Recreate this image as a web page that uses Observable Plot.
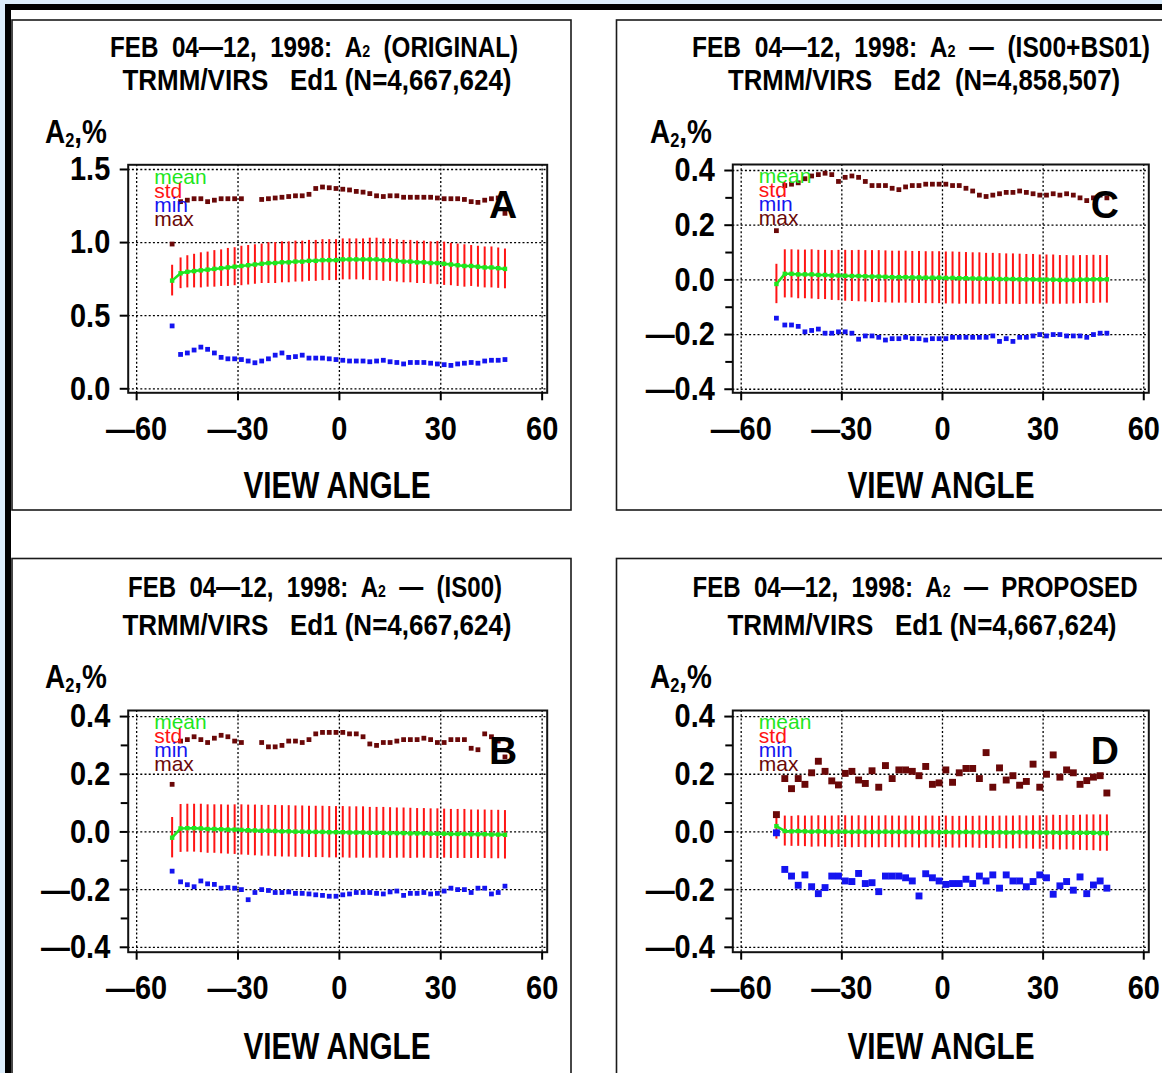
<!DOCTYPE html>
<html>
<head>
<meta charset="utf-8">
<script src="https://cdn.jsdelivr.net/npm/d3@7"></script>
<script src="https://cdn.jsdelivr.net/npm/@observablehq/plot@0.6"></script>
<style>
  html, body { margin: 0; padding: 0; background: #ffffff; }
  #root { position: relative; width: 1162px; height: 1073px; overflow: hidden; background: #ffffff; }
  .plotbox { position: absolute; width: 560px; }
  .plotbox svg { max-width: none !important; }
  #overlay { position: absolute; left: 0; top: 0; pointer-events: none; }
</style>
</head>
<body>
<div id="root"></div>
<script>
// ---------------- DATA ----------------
const angles = [
  -49.5, -47, -45, -43, -41, -39, -37, -35, -33, -31,
  -29, -27, -25, -23, -21, -19, -17, -15, -13, -11,
  -9, -7, -5, -3, -1, 1, 3, 5, 7, 9,
  11, 13, 15, 17, 19, 21, 23, 25, 27, 29,
  31, 33, 35, 37, 39, 41, 43, 45, 47, 49
];
const xTicks = [-60, -30, 0, 30, 60];
const yTicksA = [0, 0.5, 1.0, 1.5];
const yTicksPM = [-0.4, -0.2, 0, 0.2, 0.4];
const yMinorPM = [-0.3, -0.1, 0.1, 0.3];
const legendLabels = ["mean", "std", "min", "max"];

// Panel A (ORIGINAL)
const meanA = [
  0.74, 0.79, 0.80, 0.805, 0.81, 0.815, 0.82, 0.825, 0.83, 0.835,
  0.84, 0.845, 0.85, 0.855, 0.86, 0.86, 0.865, 0.865, 0.87, 0.87,
  0.875, 0.875, 0.88, 0.88, 0.88, 0.885, 0.885, 0.885, 0.885, 0.885,
  0.885, 0.88, 0.88, 0.875, 0.87, 0.87, 0.865, 0.865, 0.86, 0.86,
  0.855, 0.85, 0.845, 0.84, 0.84, 0.835, 0.83, 0.83, 0.825, 0.82
];
const stdA = [
  0.105, 0.105, 0.11, 0.115, 0.12, 0.12, 0.125, 0.125, 0.13, 0.13,
  0.135, 0.135, 0.135, 0.135, 0.14, 0.14, 0.14, 0.14, 0.14, 0.14,
  0.14, 0.14, 0.14, 0.14, 0.14, 0.14, 0.14, 0.14, 0.14, 0.145,
  0.145, 0.145, 0.145, 0.145, 0.145, 0.145, 0.145, 0.145, 0.145, 0.148,
  0.148, 0.145, 0.145, 0.145, 0.14, 0.14, 0.14, 0.14, 0.138, 0.136
];
const minA = [
  0.43, 0.235, 0.245, 0.265, 0.285, 0.27, 0.245, 0.215, 0.205, 0.205,
  0.20, 0.19, 0.178, 0.19, 0.205, 0.23, 0.245, 0.215, 0.22, 0.23,
  0.21, 0.21, 0.21, 0.205, 0.20, 0.195, 0.19, 0.19, 0.19, 0.185,
  0.19, 0.195, 0.185, 0.18, 0.17, 0.18, 0.18, 0.18, 0.175, 0.17,
  0.165, 0.16, 0.17, 0.175, 0.18, 0.175, 0.19, 0.195, 0.195, 0.20
];
const maxA = [
  0.99, 1.28, 1.29, 1.30, 1.30, 1.28, 1.29, 1.30, 1.30, 1.30,
  1.30, null, null, 1.295, 1.30, 1.305, 1.31, 1.315, 1.32, 1.32,
  1.33, 1.37, 1.38, 1.375, 1.37, 1.365, 1.36, 1.35, 1.345, 1.335,
  1.32, 1.315, 1.32, 1.32, 1.31, 1.31, 1.31, 1.31, 1.31, 1.305,
  1.30, 1.30, 1.30, 1.295, 1.28, 1.275, 1.29, 1.30, 1.305, 1.20
];

// Panel C (IS00+BS01)
const meanC = [
  -0.015, 0.022, 0.022, 0.02, 0.02, 0.02, 0.018, 0.018, 0.016, 0.016,
  0.015, 0.014, 0.014, 0.013, 0.012, 0.012, 0.011, 0.01, 0.01, 0.01,
  0.009, 0.009, 0.008, 0.008, 0.008, 0.007, 0.007, 0.006, 0.006, 0.005,
  0.005, 0.004, 0.004, 0.003, 0.003, 0.003, 0.002, 0.002, 0.002, 0.001,
  0.001, 0.001, 0.0, 0.0, 0.0, 0.001, 0.001, 0.002, 0.002, 0.002
];
const stdC = [
  0.072, 0.088, 0.088, 0.089, 0.089, 0.09, 0.09, 0.09, 0.091, 0.092,
  0.093, 0.093, 0.094, 0.094, 0.095, 0.095, 0.095, 0.095, 0.095, 0.095,
  0.095, 0.095, 0.095, 0.095, 0.095, 0.095, 0.095, 0.095, 0.094, 0.094,
  0.094, 0.093, 0.093, 0.093, 0.092, 0.092, 0.092, 0.091, 0.091, 0.09,
  0.09, 0.09, 0.089, 0.089, 0.088, 0.088, 0.088, 0.088, 0.087, 0.087
];
const minC = [
  -0.14, -0.165, -0.165, -0.17, -0.19, -0.185, -0.18, -0.195, -0.195, -0.19,
  -0.19, -0.195, -0.217, -0.205, -0.205, -0.21, -0.22, -0.215, -0.215, -0.21,
  -0.215, -0.215, -0.22, -0.215, -0.215, -0.215, -0.21, -0.21, -0.21, -0.21,
  -0.21, -0.21, -0.205, -0.225, -0.215, -0.225, -0.21, -0.21, -0.205, -0.2,
  -0.205, -0.2, -0.2, -0.205, -0.205, -0.205, -0.21, -0.2, -0.195, -0.195
];
const maxC = [
  0.18, 0.345, 0.35, 0.355, 0.37, 0.38, 0.385, 0.39, 0.385, 0.36,
  0.375, 0.38, 0.375, 0.36, 0.345, 0.345, 0.345, 0.335, 0.33, 0.34,
  0.345, 0.345, 0.35, 0.35, 0.35, 0.35, 0.345, 0.345, 0.335, 0.325,
  0.31, 0.305, 0.31, 0.315, 0.32, 0.32, 0.325, 0.32, 0.315, 0.31,
  0.31, 0.315, 0.31, 0.315, 0.31, 0.30, 0.29, 0.30, 0.31, 0.30
];

// Panel B (IS00)
const meanB = [
  -0.02, 0.012, 0.013, 0.013, 0.012, 0.01, 0.01, 0.009, 0.008, 0.008,
  0.007, 0.006, 0.005, 0.004, 0.004, 0.003, 0.002, 0.002, 0.001, 0.001,
  0.0, 0.0, 0.0, -0.001, -0.001, -0.001, -0.002, -0.002, -0.002, -0.003,
  -0.003, -0.003, -0.004, -0.004, -0.004, -0.005, -0.005, -0.005, -0.006, -0.006,
  -0.006, -0.007, -0.007, -0.007, -0.008, -0.008, -0.008, -0.009, -0.009, -0.01
];
const stdB = [
  0.07, 0.083, 0.083, 0.083, 0.084, 0.084, 0.084, 0.085, 0.085, 0.086,
  0.087, 0.087, 0.088, 0.088, 0.088, 0.089, 0.089, 0.089, 0.089, 0.089,
  0.089, 0.089, 0.089, 0.089, 0.089, 0.089, 0.089, 0.089, 0.089, 0.088,
  0.088, 0.088, 0.088, 0.087, 0.087, 0.087, 0.086, 0.086, 0.086, 0.086,
  0.085, 0.085, 0.085, 0.085, 0.084, 0.084, 0.084, 0.084, 0.084, 0.084
];
const minB = [
  -0.136, -0.173, -0.183, -0.19, -0.17, -0.18, -0.182, -0.195, -0.193, -0.195,
  -0.2, -0.235, -0.21, -0.2, -0.203, -0.21, -0.21, -0.208, -0.213, -0.213,
  -0.215, -0.218, -0.22, -0.223, -0.223, -0.218, -0.215, -0.21, -0.21, -0.21,
  -0.213, -0.215, -0.208, -0.205, -0.22, -0.213, -0.213, -0.21, -0.215, -0.213,
  -0.205, -0.195, -0.2, -0.2, -0.21, -0.195, -0.195, -0.215, -0.21, -0.188
];
const maxB = [
  0.165, 0.315, 0.32, 0.33, 0.32, 0.31, 0.325, 0.335, 0.33, 0.315,
  0.31, null, null, 0.31, 0.295, 0.295, 0.30, 0.315, 0.315, 0.31,
  0.32, 0.34, 0.345, 0.345, 0.345, 0.345, 0.34, 0.34, 0.33, 0.305,
  0.30, 0.31, 0.31, 0.315, 0.32, 0.32, 0.32, 0.325, 0.32, 0.31,
  0.31, 0.32, 0.32, 0.32, 0.29, 0.285, 0.34, 0.33, 0.315, 0.26
];

// Panel D (PROPOSED)
const meanD = [
  0.02, 0.003, 0.002, 0.003, 0.002, 0.001, 0.002, 0.001, 0.0, 0.001,
  0.001, 0.0, 0.001, 0.0, 0.0, 0.0, 0.001, 0.0, 0.0, 0.0,
  0.0, -0.001, 0.0, 0.0, -0.001, 0.0, -0.001, -0.001, 0.0, -0.001,
  -0.001, -0.001, -0.002, -0.001, -0.002, -0.002, -0.001, -0.002, -0.002, -0.002,
  -0.002, -0.002, -0.003, -0.002, -0.003, -0.003, -0.003, -0.003, -0.004, -0.004
];
const stdD = [
  0.045, 0.052, 0.052, 0.053, 0.053, 0.054, 0.054, 0.054, 0.055, 0.055,
  0.055, 0.055, 0.055, 0.055, 0.055, 0.055, 0.055, 0.055, 0.055, 0.055,
  0.055, 0.055, 0.055, 0.055, 0.055, 0.055, 0.055, 0.055, 0.055, 0.055,
  0.056, 0.056, 0.056, 0.056, 0.057, 0.057, 0.057, 0.057, 0.058, 0.058,
  0.058, 0.06, 0.06, 0.06, 0.06, 0.061, 0.062, 0.062, 0.063, 0.063
];
const minD = [
  -0.003, -0.13, -0.153, -0.185, -0.149, -0.19, -0.214, -0.193, -0.153, -0.153,
  -0.17, -0.172, -0.144, -0.179, -0.176, -0.207, -0.153, -0.153, -0.153, -0.159,
  -0.17, -0.222, -0.145, -0.159, -0.17, -0.182, -0.179, -0.179, -0.164, -0.179,
  -0.153, -0.17, -0.149, -0.195, -0.149, -0.17, -0.17, -0.19, -0.172, -0.149,
  -0.159, -0.216, -0.187, -0.172, -0.202, -0.156, -0.214, -0.184, -0.17, -0.195
];
const maxD = [
  0.06, 0.185, 0.15, 0.185, 0.165, 0.205, 0.245, 0.21, 0.177, 0.163,
  0.203, 0.21, 0.18, 0.168, 0.212, 0.155, 0.23, 0.185, 0.215, 0.215,
  0.21, 0.195, 0.227, 0.165, 0.17, 0.215, 0.172, 0.205, 0.22, 0.22,
  0.185, 0.275, 0.155, 0.222, 0.18, 0.195, 0.162, 0.175, 0.235, 0.155,
  0.2, 0.267, 0.19, 0.215, 0.205, 0.165, 0.178, 0.19, 0.195, 0.135
];

// Text content
const titleA = ["FEB  04—12,  1998:  A", "2", "  (ORIGINAL)"];
const titleC = ["FEB  04—12,  1998:  A", "2", "  —  (IS00+BS01)"];
const titleB = ["FEB  04—12,  1998:  A", "2", "  —  (IS00)"];
const titleD = ["FEB  04—12,  1998:  A", "2", "  —  PROPOSED"];
const subA = "TRMM/VIRS   Ed1 (N=4,667,624)";
const subC = "TRMM/VIRS   Ed2  (N=4,858,507)";
const subB = "TRMM/VIRS   Ed1 (N=4,667,624)";
const subD = "TRMM/VIRS   Ed1 (N=4,667,624)";
const xLabel = "VIEW ANGLE";
const yLabel = ["A", "2", ",%"];

// ---------------- STYLE / LAYOUT ----------------
const GREEN = "#1fe61f", RED = "#ff1414", BLUE = "#1414f0", MAROON = "#6a0808";
const FONT = "'Liberation Sans', Arial, Helvetica, sans-serif";

const panels = [
  {letter: "A", left: 11, top: 140, h: 320, ml: 116.7, mr: 24.3, mt: 24.3, mb: 67.7,
   ydom: [-0.0274, 1.532], yticks: yTicksA, minor: null, r: 2.7,
   mean: meanA, std: stdA, min: minA, max: maxA},
  {letter: "C", left: 616, top: 140, h: 320, ml: 116.3, mr: 27.7, mt: 24, mb: 67.7,
   ydom: [-0.413, 0.422], yticks: yTicksPM, minor: yMinorPM, r: 2.7,
   mean: meanC, std: stdC, min: minC, max: maxC},
  {letter: "B", left: 11, top: 686, h: 334, ml: 116.7, mr: 24.3, mt: 24, mb: 68.3,
   ydom: [-0.417, 0.421], yticks: yTicksPM, minor: yMinorPM, r: 2.7,
   mean: meanB, std: stdB, min: minB, max: maxB},
  {letter: "D", left: 616, top: 686, h: 334, ml: 116.3, mr: 27.7, mt: 24, mb: 68.3,
   ydom: [-0.417, 0.421], yticks: yTicksPM, minor: yMinorPM, r: 3.9,
   mean: meanD, std: stdD, min: minD, max: maxD}
];

const fmtX = d => (d < 0 ? "—" : "") + Math.abs(d);
const fmtY = d => (d < -1e-9 ? "—" : "") + Math.abs(d).toFixed(1);

const root = document.getElementById("root");

// background pieces (behind plots)
const bg = d3.select(root).append("svg").attr("id", "bg")
  .style("position", "absolute").style("left", 0).style("top", 0)
  .attr("width", 1162).attr("height", 1073);
bg.append("rect").attr("x", 0).attr("y", 0).attr("width", 1162).attr("height", 1073).attr("fill", "#dcedfb");
bg.append("rect").attr("x", 5).attr("y", 4).attr("width", 1157).attr("height", 1069).attr("fill", "white");

for (const p of panels) {
  const data = angles.map((a, i) => ({angle: a, mean: p.mean[i], std: p.std[i], min: p.min[i], max: p.max[i]}));
  const legendColors = [GREEN, RED, BLUE, MAROON];
  const grid = {stroke: "black", strokeOpacity: 1, strokeWidth: 1.3, strokeDasharray: "2,2.2"};
  const marks = [
    Plot.gridX(xTicks, grid),
    Plot.gridY(p.yticks, grid),
    Plot.frame({stroke: "#111", strokeWidth: 2}),
    Plot.axisX(xTicks, {tickSize: 8, tickPadding: 15, tickFormat: fmtX, fontSize: 34, fontWeight: "bold", strokeWidth: 2, label: null}),
    Plot.axisY(p.yticks, {tickSize: 8, tickPadding: 10, tickFormat: fmtY, fontSize: 34, fontWeight: "bold", strokeWidth: 2, label: null}),
  ];
  if (p.minor) marks.push(Plot.axisY(p.minor, {tickSize: 7, tickFormat: () => "", strokeWidth: 2, label: null}));
  marks.push(
    Plot.ruleX(data, {x: "angle", y1: d => d.mean - d.std, y2: d => d.mean + d.std, stroke: RED, strokeWidth: 2}),
    Plot.line(data, {x: "angle", y: "mean", stroke: GREEN, strokeWidth: 2.5}),
    Plot.dot(data, {x: "angle", y: "mean", symbol: "square", fill: GREEN, r: 2.5}),
    Plot.dot(data.filter(d => d.min != null), {x: "angle", y: "min", symbol: "square", fill: BLUE, r: p.r}),
    Plot.dot(data.filter(d => d.max != null), {x: "angle", y: "max", symbol: "square", fill: MAROON, r: p.r})
  );
  legendLabels.forEach((lab, i) => {
    marks.push(Plot.text([lab], {text: d => d, frameAnchor: "top-left", dx: 26, dy: 12 + 14 * i,
      fill: legendColors[i], fontSize: 21, fontWeight: "normal", textAnchor: "start", lineAnchor: "middle"}));
  });
  marks.push(Plot.text([p.letter], {text: d => d, frameAnchor: "top-right", dx: -44, dy: 41,
    fontSize: 39, fontWeight: "bold", fill: "black", textAnchor: "middle", lineAnchor: "middle"}));

  const svg = Plot.plot({
    width: 560, height: p.h,
    marginLeft: p.ml, marginRight: p.mr, marginTop: p.mt, marginBottom: p.mb,
    style: {fontFamily: FONT, background: "transparent", color: "black", overflow: "visible", maxWidth: "none"},
    x: {domain: [-62.5, 61.5]},
    y: {domain: p.ydom},
    marks
  });
  svg.style.maxWidth = "none";
  svg.setAttribute("width", 560);
  svg.setAttribute("height", p.h);
  const box = document.createElement("div");
  box.className = "plotbox";
  box.style.left = p.left + "px";
  box.style.top = p.top + "px";
  box.appendChild(svg);
  root.appendChild(box);
  // condense the tick labels like the original bitmap font (measured once attached)
  svg.querySelectorAll('g[aria-label$="tick label"] text').forEach(t => {
    const w = t.getComputedTextLength();
    if (w > 0) {
      t.setAttribute("textLength", (w * 0.85).toFixed(1));
      t.setAttribute("lengthAdjust", "spacingAndGlyphs");
    }
  });
}

// ---------------- OVERLAY: frames, titles, axis labels ----------------
const ov = d3.select(root).append("svg").attr("id", "overlay")
  .attr("width", 1162).attr("height", 1073);
// page frame
ov.append("rect").attr("x", 5).attr("y", 4).attr("width", 1157).attr("height", 6).attr("fill", "black");
ov.append("rect").attr("x", 5).attr("y", 4).attr("width", 6).attr("height", 1069).attr("fill", "black");
// panel borders
[[12, 20, 559, 490], [616.5, 20, 600, 490], [12, 558.5, 559, 600], [616.5, 558.5, 600, 600]].forEach(([x, y, w, h]) => {
  ov.append("rect").attr("x", x).attr("y", y).attr("width", w).attr("height", h)
    .attr("fill", "none").attr("stroke", "#1a1a1a").attr("stroke-width", 1.6);
});

function addText(parts, x, y, len, size, anchor, subMode) {
  const t = ov.append("text").attr("x", x).attr("y", y)
    .attr("text-anchor", anchor).attr("font-family", FONT).attr("font-weight", "bold")
    .attr("font-size", size).attr("fill", "black")
    .attr("textLength", len).attr("lengthAdjust", "spacingAndGlyphs")
    .style("white-space", "pre");
  if (typeof parts === "string") { t.text(parts); return; }
  parts.forEach((s, i) => {
    const ts = t.append("tspan").text(s);
    if (i === 1) {
      ts.attr("font-size", Math.round(size * 0.6));
      if (subMode) ts.attr("dy", 4);
    } else if (i === 2 && subMode) {
      ts.attr("dy", -4);
    }
  });
}

const textLayout = [
  {parts: titleA, x: 314, y: 57, len: 408, size: 29},
  {parts: subA, x: 317, y: 90, len: 389, size: 29},
  {parts: titleC, x: 921, y: 57, len: 458, size: 29},
  {parts: subC, x: 924, y: 90, len: 392, size: 29},
  {parts: titleB, x: 315, y: 597, len: 374, size: 29},
  {parts: subB, x: 317, y: 635, len: 389, size: 29},
  {parts: titleD, x: 915, y: 597, len: 445, size: 29},
  {parts: subD, x: 922, y: 635, len: 389, size: 29}
];
textLayout.forEach(o => addText(o.parts, o.x, o.y, o.len, o.size, "middle", false));

[[45, 143], [650, 143], [45, 688], [650, 688]].forEach(([x, y]) => addText(yLabel, x, y, 62, 34, "start", true));
[[337, 498], [941, 498], [337, 1059], [941, 1059]].forEach(([x, y]) => addText(xLabel, x, y, 187, 36, "middle", false));
</script>
</body>
</html>
